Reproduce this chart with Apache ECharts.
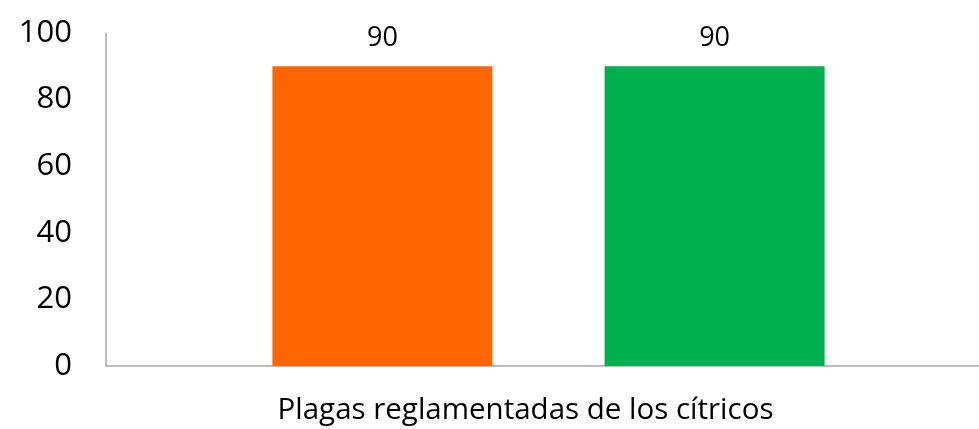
<!DOCTYPE html>
<html>
<head>
<meta charset="utf-8">
<script src="https://cdn.jsdelivr.net/npm/echarts@6/dist/echarts.min.js"></script>
<style>
  html, body { margin: 0; padding: 0; background: #fff; }
  #chart { width: 979px; height: 429px; }
</style>
</head>
<body>
<div id="chart"></div>
<script>
const categories = ['Plagas reglamentadas de los cítricos'];
const orangeValues = [90];
const greenValues = [90];
const yTicks = { min: 0, max: 100, interval: 20 };

const chart = echarts.init(document.getElementById('chart'));
const font = '"Open Sans", sans-serif';

const option = {
  animation: false,
  // plot area runs past the right edge in the original crop
  grid: { left: 106, top: 33, width: 885, height: 333, containLabel: false, outerBoundsMode: 'none' },
  xAxis: {
    type: 'category',
    data: categories,
    axisLine: { lineStyle: { color: '#a6a6a6', width: 1.5 } },
    axisTick: { show: false },
    axisLabel: { color: '#000', fontFamily: font, fontSize: 29.5, margin: 30, padding: [0, 46, 0, 0] }
  },
  yAxis: {
    type: 'value',
    min: yTicks.min,
    max: yTicks.max,
    interval: yTicks.interval,
    axisLine: { show: true, lineStyle: { color: '#a6a6a6', width: 1.5 } },
    axisTick: { show: false },
    splitLine: { show: false },
    axisLabel: { color: '#000', fontFamily: font, fontSize: 31, margin: 34 }
  },
  series: [
    {
      type: 'bar',
      data: orangeValues,
      barWidth: 220,
      barGap: '51%',
      itemStyle: { color: '#ff6600' },
      label: { show: true, position: 'top', distance: 14, color: '#000', fontFamily: font, fontSize: 27 }
    },
    {
      type: 'bar',
      data: greenValues,
      barWidth: 220,
      itemStyle: { color: '#00b050' },
      label: { show: true, position: 'top', distance: 14, color: '#000', fontFamily: font, fontSize: 27 }
    }
  ]
};

chart.setOption(option);
</script>
</body>
</html>
